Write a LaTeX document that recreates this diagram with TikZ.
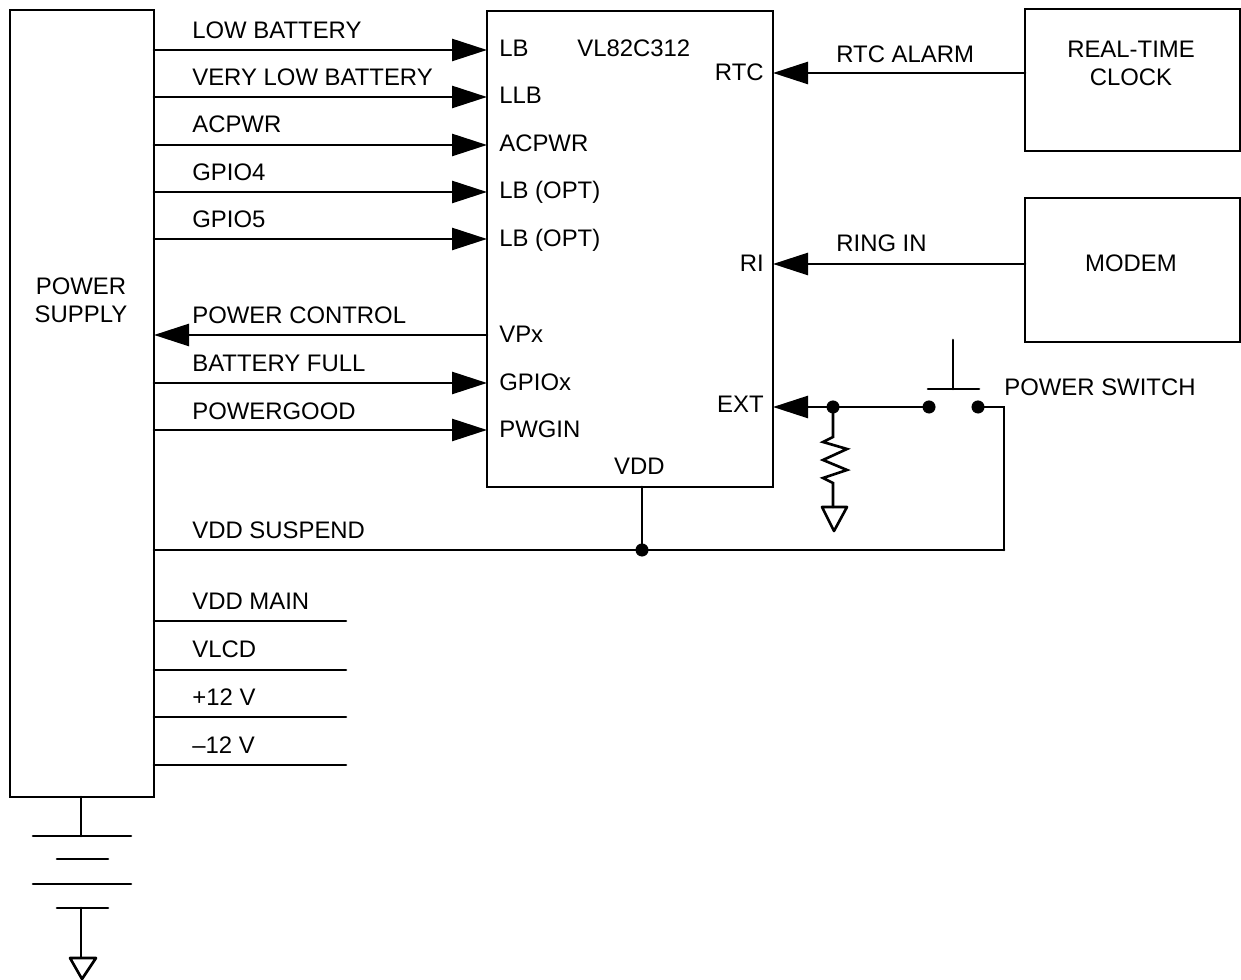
\documentclass[tikz,border=0pt]{standalone}
\usepackage{fontspec}
\setmainfont{Liberation Sans}
\usepackage{tkz-euclide}
\usepackage{tikz}
\usetikzlibrary{arrows.meta}
\tikzset{
    wire/.style={line width=1.5pt},
    arrowwire/.style={line width=1.5pt,-{Triangle[length=0.7cm,width=0.44cm]}},
    blockbox/.style={draw,line width=1.5pt,inner sep=0pt},
    blocktext/.style={align=center,inner sep=0pt,font=\sigfont},
    siglabel/.style={anchor=base west,inner sep=0pt,font=\sigfont},
    pinright/.style={anchor=base east,inner sep=0pt,font=\sigfont},
}
\newcommand{\sigfont}{\fontsize{13.6}{15.9}\selectfont}

\begin{document}
\begin{tikzpicture}[scale=2, rotate=0]
    \useasboundingbox (0,0) rectangle (12.41,9.80);
    % blocks
    \node[blockbox,minimum width=2.88cm,minimum height=15.74cm] (PS) at (0.82,5.765) {};
    \node[blockbox,minimum width=5.72cm,minimum height=9.52cm] (CHIP) at (6.30,7.31) {};
    \node[blockbox,minimum width=4.30cm,minimum height=2.84cm] (RTCK) at (11.325,9.00) {};
    \node[blockbox,minimum width=4.30cm,minimum height=2.88cm] (MODEM) at (11.325,7.10) {};
    \node[blocktext] (pstext) at (0.81,6.80) {POWER\\SUPPLY};
    \node[blocktext] (rtctext) at (11.31,9.17) {REAL-TIME\\CLOCK};
    \node[blocktext] (modemtext) at (11.31,7.17) {MODEM};
    % signal lines
    \tkzDefPoints{1.54/9.30/A1,4.87/9.30/B1,1.54/8.83/A2,4.87/8.83/B2,1.54/8.35/A3,4.87/8.35/B3}
    \tkzDefPoints{1.54/7.88/A4,4.87/7.88/B4,1.54/7.41/A5,4.87/7.41/B5}
    \tkzDefPoints{1.54/6.45/A6,4.87/6.45/B6,1.54/5.97/A7,4.87/5.97/B7,1.54/5.50/A8,4.87/5.50/B8}
    \tkzDefPoints{7.73/9.07/C1,10.25/9.07/D1,7.73/7.16/C2,10.25/7.16/D2,7.73/5.73/C3}
    \tkzDefPoints{8.33/5.73/J,9.29/5.73/S,9.78/5.73/T,10.04/5.73/U,10.04/4.30/V}
    \tkzDefPoints{1.54/4.30/W,6.42/4.30/K,6.42/4.93/L}
    \tkzDefPoints{1.54/3.59/E1,3.46/3.59/F1,1.54/3.10/E2,3.46/3.10/F2,1.54/2.63/E3,3.46/2.63/F3,1.54/2.15/E4,3.46/2.15/F4}
    \tkzDrawSegments[arrowwire](A1,B1 A2,B2 A3,B3 A4,B4 A5,B5)
    \tkzDrawSegments[arrowwire](B6,A6 A7,B7 A8,B8)
    \tkzDrawSegments[arrowwire](D1,C1 D2,C2 J,C3)
    \tkzDrawSegments[wire](J,S L,K W,V)
    \tkzDrawPolySeg[wire](T,U,V)
    \tkzDrawSegments[wire](E1,F1 E2,F2 E3,F3 E4,F4)
    % switch
    \tkzDefPoints{9.28/5.91/G,9.79/5.91/H,9.53/5.91/M,9.53/6.40/N}
    \tkzDrawSegments[wire](G,H M,N)
    \tkzDrawPoints[fill=black,color=black,size=7](J,S,T,K)
    % resistor and ground
    \tkzDefPoints{8.33/5.43/R0,8.23/5.38/R1,8.47/5.31/R2,8.23/5.20/R3,8.47/5.10/R4,8.23/5.02/R5,8.33/4.97/R6}
    \tkzDefPoints{8.33/4.73/R7,8.22/4.73/Q1,8.47/4.73/Q2,8.34/4.49/Q3}
    \tkzDrawPolySeg[wire](J,R0,R1,R2,R3,R4,R5,R6,R7)
    \tkzDrawPolygon[wire](Q1,Q2,Q3)
    % battery
    \tkzDefPoints{0.81/1.83/P0,0.81/1.44/P1,0.33/1.44/P2,1.31/1.44/P3,0.57/1.21/P4,1.08/1.21/P5}
    \tkzDefPoints{0.33/0.96/P6,1.31/0.96/P7,0.57/0.72/P8,1.08/0.72/P9,0.81/0.72/P10,0.81/0.23/P11}
    \tkzDefPoints{0.70/0.22/Y1,0.96/0.22/Y2,0.82/0.01/Y3}
    \tkzDrawSegments[wire](P0,P1 P2,P3 P4,P5 P6,P7 P8,P9 P10,P11)
    \tkzDrawPolygon[wire](Y1,Y2,Y3)
    % left labels
    \node[siglabel] (lowbat) at (1.92,9.41) {LOW BATTERY};
    \node[siglabel] (vlowbat) at (1.92,8.94) {VERY LOW BATTERY};
    \node[siglabel] (acpwr) at (1.92,8.47) {ACPWR};
    \node[siglabel] (gpiofour) at (1.92,7.99) {GPIO4};
    \node[siglabel] (gpiofive) at (1.92,7.52) {GPIO5};
    \node[siglabel] (pwrctl) at (1.92,6.56) {POWER CONTROL};
    \node[siglabel] (batfull) at (1.92,6.08) {BATTERY FULL};
    \node[siglabel] (pwrgood) at (1.92,5.60) {POWERGOOD};
    \node[siglabel] (vddsus) at (1.92,4.41) {VDD SUSPEND};
    \node[siglabel] (vddmain) at (1.92,3.70) {VDD MAIN};
    \node[siglabel] (vlcd) at (1.92,3.22) {VLCD};
    \node[siglabel] (ptwelve) at (1.92,2.74) {+12 V};
    \node[siglabel] (mtwelve) at (1.92,2.26) {–12 V};
    % chip pins
    \node[siglabel] (pinlb) at (4.99,9.23) {LB};
    \node[siglabel] (chipname) at (5.77,9.23) {VL82C312};
    \node[siglabel] (pinllb) at (4.99,8.76) {LLB};
    \node[siglabel] (pinac) at (4.99,8.28) {ACPWR};
    \node[siglabel] (pinopta) at (4.99,7.81) {LB (OPT)};
    \node[siglabel] (pinoptb) at (4.99,7.33) {LB (OPT)};
    \node[siglabel] (pinvpx) at (4.99,6.37) {VPx};
    \node[siglabel] (pingpio) at (4.99,5.89) {GPIOx};
    \node[siglabel] (pinpwg) at (4.99,5.42) {PWGIN};
    \node[pinright] (pinrtc) at (7.64,8.99) {RTC};
    \node[pinright] (pinri) at (7.64,7.08) {RI};
    \node[pinright] (pinext) at (7.64,5.67) {EXT};
    \node[pinright] (pinvdd) at (6.65,5.05) {VDD};
    % right labels
    \node[siglabel] (rtcalarm) at (8.36,9.17) {RTC ALARM};
    \node[siglabel] (ringin) at (8.36,7.28) {RING IN};
    \node[siglabel] (pwrsw) at (10.04,5.84) {POWER SWITCH};
\end{tikzpicture}
\end{document}
